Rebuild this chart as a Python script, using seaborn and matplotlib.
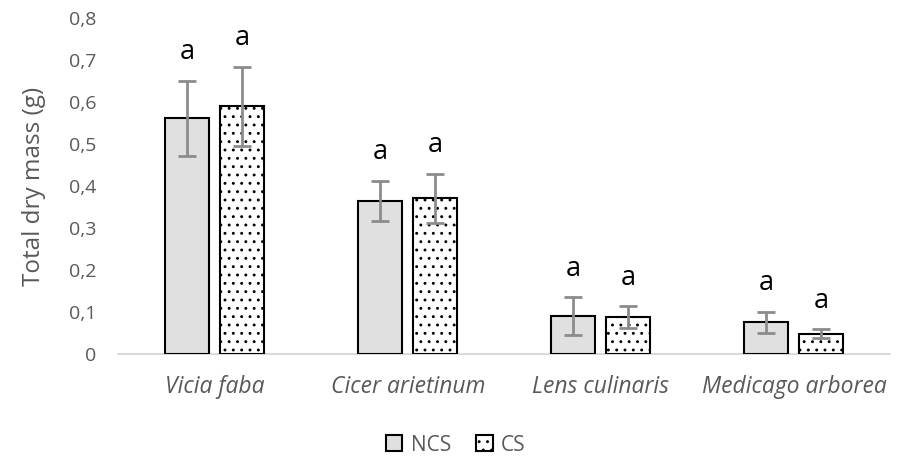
import matplotlib
matplotlib.use("Agg")
import matplotlib.pyplot as plt
from matplotlib.patches import Patch
import seaborn as sns
import pandas as pd

species = ["Vicia faba", "Cicer arietinum", "Lens culinaris", "Medicago arborea"]
treatments = ["NCS", "CS"]
ncs_mean = [0.561, 0.364, 0.090, 0.075]
ncs_err = [0.090, 0.048, 0.045, 0.026]
cs_mean = [0.590, 0.371, 0.088, 0.048]
cs_err = [0.094, 0.058, 0.026, 0.011]
letters_ncs = ["a", "a", "a", "a"]
letters_cs = ["a", "a", "a", "a"]
y_ticks = [0, 0.1, 0.2, 0.3, 0.4, 0.5, 0.6, 0.7, 0.8]
y_tick_labels = ["0", "0,1", "0,2", "0,3", "0,4", "0,5", "0,6", "0,7", "0,8"]

df = pd.DataFrame({
    "species": species * 2,
    "treatment": ["NCS"] * 4 + ["CS"] * 4,
    "mass": ncs_mean + cs_mean,
})

sns.set_theme(style="white")
plt.rcParams["font.family"] = ["Open Sans", "DejaVu Sans"]
plt.rcParams["hatch.linewidth"] = 0.9
plt.rcParams["hatch.color"] = "black"

fig = plt.figure(figsize=(8.97, 4.57), dpi=100)
ax = fig.add_axes([0.132, 0.2254, 0.8607, 0.7352])

fill = {"NCS": "#e0e0e0", "CS": "white"}
sns.barplot(data=df, x="species", y="mass", hue="treatment", order=species,
            hue_order=treatments, palette=fill, width=0.57, gap=0.2,
            edgecolor="black", linewidth=1.5, errorbar=None, legend=False, ax=ax)

grey = "#595959"
hatches = ["", ".."]
for container, means, errs, letters, hatch in zip(
        ax.containers, [ncs_mean, cs_mean], [ncs_err, cs_err],
        [letters_ncs, letters_cs], hatches):
    for bar, m, e, lab in zip(container, means, errs, letters):
        bar.set_hatch(hatch)
        cx = bar.get_x() + bar.get_width() / 2
        ax.errorbar(cx, m, yerr=e, fmt="none", ecolor="#8c8c8c",
                    elinewidth=2, capsize=6.5, capthick=2, zorder=5)
        ax.text(cx, m + e + 0.068, lab, ha="center", va="center",
                fontsize=19.5, color="black")

ax.set_ylim(0, 0.8)
ax.set_xlim(-0.5, 3.5)
ax.set_yticks(y_ticks)
ax.set_yticklabels(y_tick_labels, fontsize=14, color=grey)
ax.set_xticks(range(len(species)))
ax.set_xticklabels(species, fontsize=16.5, color=grey, style="italic")
ax.tick_params(axis="y", length=0, pad=16)
ax.tick_params(axis="x", length=0, pad=15)
ax.set_xlabel("")
ax.set_ylabel("Total dry mass (g)", fontsize=17.5, color=grey, labelpad=16)
for s in ax.spines.values():
    s.set_visible(False)
ax.axhline(0, color="#d9d9d9", linewidth=1.5, zorder=0, clip_on=False)

handles = [Patch(facecolor=fill["NCS"], edgecolor="black", linewidth=1.5),
           Patch(facecolor=fill["CS"], edgecolor="black", linewidth=1.5, hatch="..")]
fig.legend(handles, treatments, loc="center", bbox_to_anchor=(0.508, 0.026),
           ncol=2, frameon=False, fontsize=15, labelcolor=grey,
           handlelength=0.8, handleheight=0.8, handletextpad=0.4, columnspacing=1.2)

fig.savefig("out.png", dpi=100)
